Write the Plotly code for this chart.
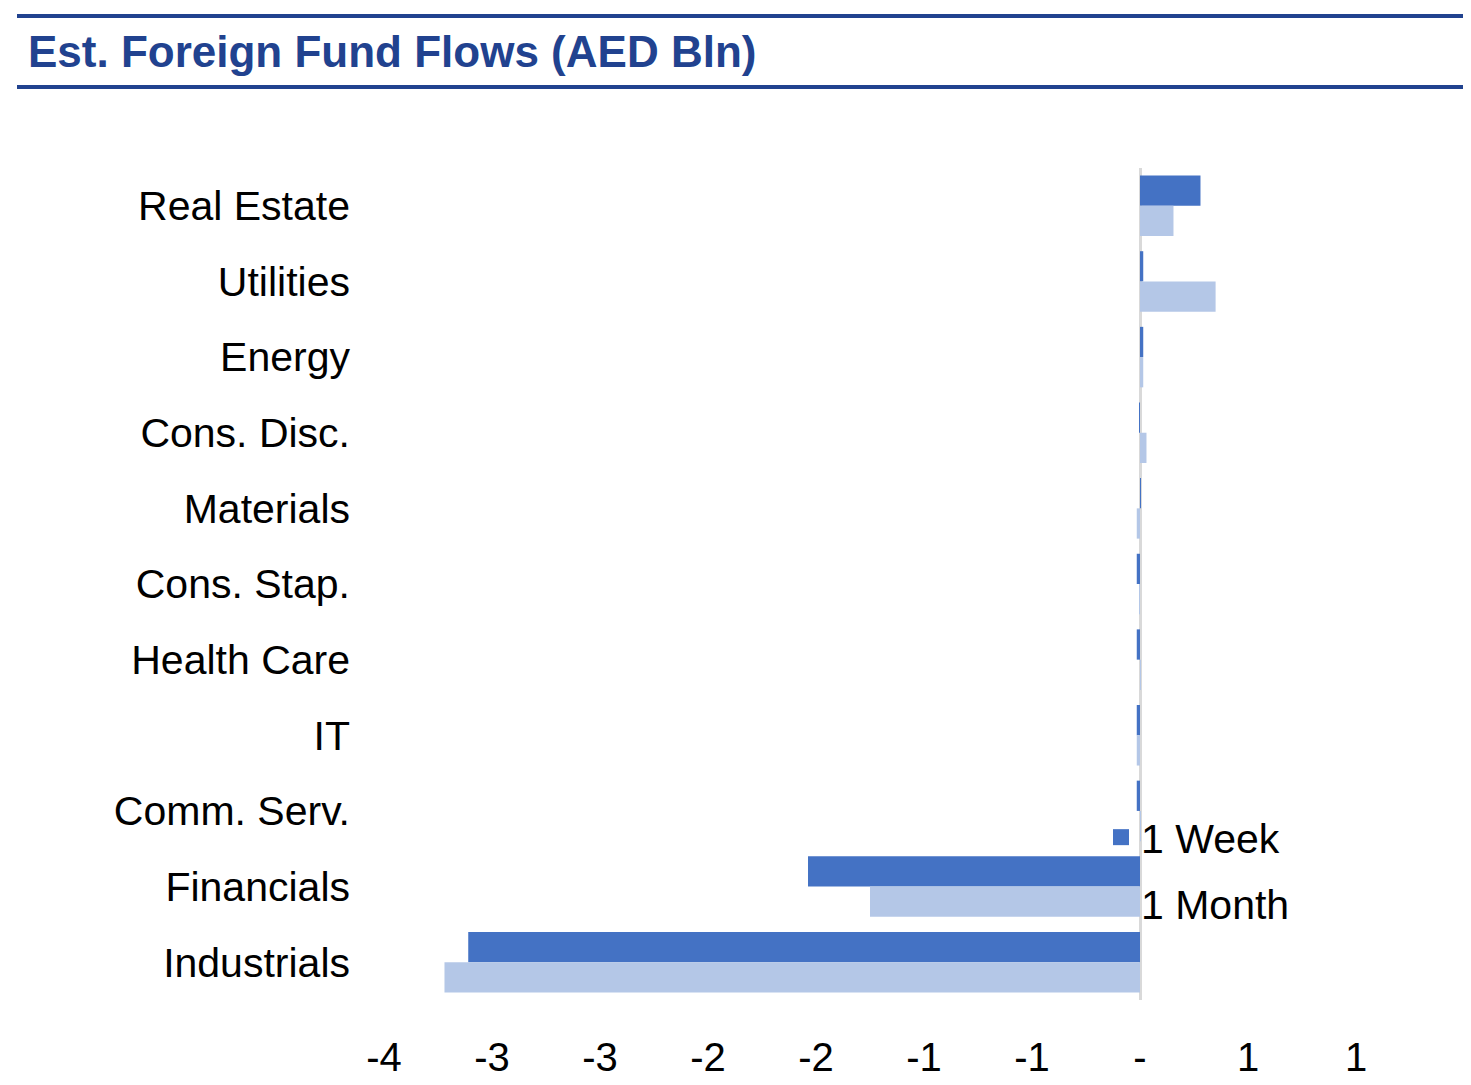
import plotly.graph_objects as go

categories = ["Real Estate", "Utilities", "Energy", "Cons. Disc.", "Materials",
              "Cons. Stap.", "Health Care", "IT", "Comm. Serv.", "Financials", "Industrials"]
week = [0.28, 0.015, 0.015, -0.003, 0.003, -0.015, -0.015, -0.015, -0.015, -1.537, -3.11]
month = [0.155, 0.35, 0.015, 0.03, -0.015, -0.003, 0.002, -0.015, 0.002, -1.25, -3.22]
series_names = ["1 Week", "1 Month"]
series_colors = ["#4472C4", "#B4C7E7"]
tick_vals = [-3.5, -3.0, -2.5, -2.0, -1.5, -1.0, -0.5, 0.0, 0.5, 1.0]
tick_text = ["-4", "-3", "-3", "-2", "-2", "-1", "-1", "-", "1", "1"]

OFF = 8  # page body margin: figure origin sits at (8, 8) on screen
W, H = 1471 - OFF, 1085 - OFF
L, R, T, B = 384 - OFF, 115, 168 - OFF, 85
pw, ph = W - L - R, H - T - B


def px_x(p):
    """screen x pixel -> paper coordinate"""
    return (p - OFF - L) / pw


def px_y(p):
    """screen y pixel -> paper coordinate"""
    return (H - B - (p - OFF)) / ph


FONT = "Liberation Sans, Arial, sans-serif"
NAVY = "#21428F"

fig = go.Figure()
for name, vals, col in zip(series_names, [week, month], series_colors):
    fig.add_trace(go.Bar(y=categories, x=vals, orientation="h", name=name,
                         marker=dict(color=col, line=dict(width=0)),
                         showlegend=False))
# legend entries with larger square symbols
for i, (name, col) in enumerate(zip(series_names, series_colors)):
    fig.add_trace(go.Scatter(x=[None], y=[None], mode="markers", name=name,
                             legendgroup=f"g{i}",
                             marker=dict(symbol="square", size=16, color=col)))

fig.update_layout(
    width=W, height=H,
    margin=dict(l=L, r=R, t=T, b=B, autoexpand=False),
    paper_bgcolor="white", plot_bgcolor="white",
    barmode="group", bargap=0.2, bargroupgap=0,
    font=dict(family=FONT, size=41, color="black"),
    title=dict(text="<b>Est. Foreign Fund Flows (AED Bln)</b>",
               font=dict(family=FONT, size=44, color=NAVY),
               xref="container", yref="container",
               x=(28 - OFF) / W, xanchor="left", y=1 - (52 - OFF) / H, yanchor="middle"),
    xaxis=dict(range=[-3.5, 1.0], tickvals=tick_vals, ticktext=tick_text,
               showgrid=False, zeroline=True, zerolinecolor="#D9D9D9", zerolinewidth=3,
               showline=False, ticks="", ticklabelstandoff=30,
               tickfont=dict(family=FONT, size=40)),
    yaxis=dict(autorange="reversed", showgrid=False, zeroline=False, showline=False,
               ticks="", ticklabelstandoff=33, tickfont=dict(family=FONT, size=41)),
    legend=dict(x=px_x(1101), y=px_y(804), xanchor="left", yanchor="top",
                bgcolor="rgba(0,0,0,0)", font=dict(family=FONT, size=41),
                traceorder="grouped", tracegroupgap=10, itemsizing="trace"),
    showlegend=True,
    shapes=[
        dict(type="line", xref="paper", yref="paper", x0=px_x(17), x1=px_x(1471),
             y0=px_y(16), y1=px_y(16), line=dict(color=NAVY, width=4)),
        dict(type="line", xref="paper", yref="paper", x0=px_x(17), x1=px_x(1471),
             y0=px_y(87), y1=px_y(87), line=dict(color=NAVY, width=4)),
    ],
)

fig.write_html("out.html")
